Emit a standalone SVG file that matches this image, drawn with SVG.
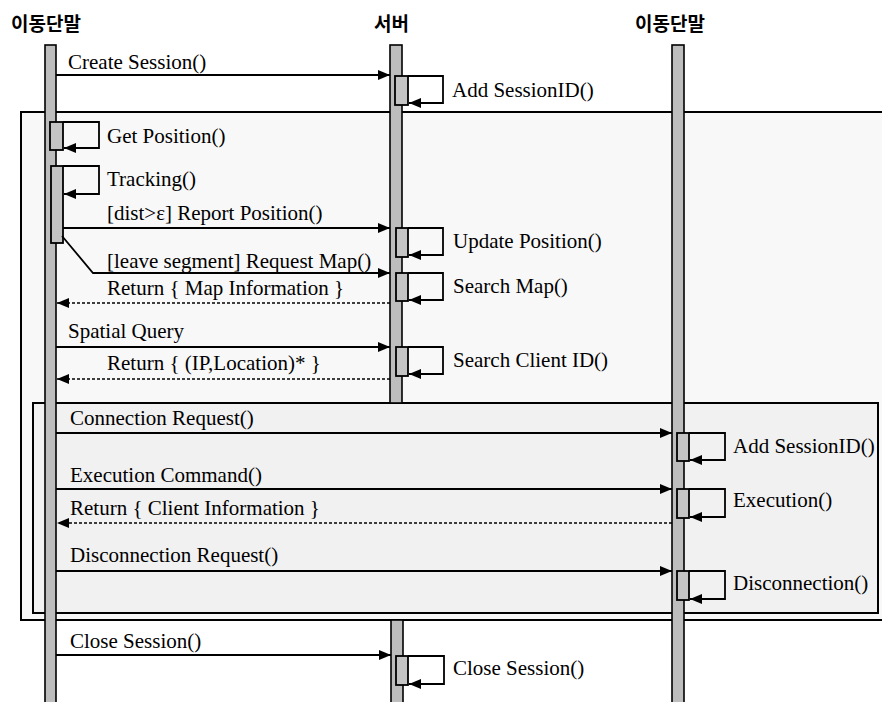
<svg xmlns="http://www.w3.org/2000/svg" width="882" height="702" viewBox="0 0 882 702">
<defs>
<style>
.lbl{font-size:21px;fill:#000}
.hdr{font-size:19px;font-weight:bold;fill:#000}
.life{fill:#bdbdbd;stroke:#000;stroke-width:1.6}
.act{fill:#c4c4c4;stroke:#000;stroke-width:1.8}
.msg{fill:none;stroke:#000;stroke-width:1.8;marker-end:url(#ah)}
.ret{fill:none;stroke:#000;stroke-width:1.5;stroke-dasharray:3 2;marker-end:url(#ah)}
.self{fill:none;stroke:#000;stroke-width:1.8;marker-end:url(#ah)}
.frame{stroke:#000;stroke-width:2}
</style>
<marker id="ah" viewBox="0 0 12 10" refX="12" refY="5" markerWidth="12" markerHeight="10" markerUnits="userSpaceOnUse" orient="auto">
<path d="M0,0 L12,5 L0,10 z" fill="#000"/>
</marker>
</defs>
<rect width="882" height="702" fill="#fff"/>

<g id="frames">
<rect id="outer-frame" class="frame" x="21" y="112" width="880" height="508" fill="#f8f8f8"/>
<rect id="inner-frame" class="frame" x="33" y="403" width="845" height="210" fill="#f1f1f1"/>
</g>

<g id="mobile-left">
<text class="hdr" font-family="'Noto Sans CJK KR', sans-serif" x="11" y="31">이동단말</text>
<rect class="life" x="45" y="45" width="11" height="665"/>
</g>
<g id="server">
<text class="hdr" font-family="'Noto Sans CJK KR', sans-serif" x="374" y="31">서버</text>
<rect class="life" x="390" y="45" width="12" height="358"/>
<rect class="life" x="391" y="620" width="12" height="90"/>
</g>
<g id="mobile-right">
<text class="hdr" font-family="'Noto Sans CJK KR', sans-serif" x="635" y="31">이동단말</text>
<rect class="life" x="672" y="45" width="12" height="665"/>
</g>

<g id="activations">
<rect class="act" x="395" y="76" width="13" height="29"/>
<rect class="act" x="50" y="122" width="13" height="28"/>
<rect class="act" x="51" y="166" width="12" height="77"/>
<rect class="act" x="396" y="228" width="12" height="29"/>
<rect class="act" x="396" y="273" width="12" height="28"/>
<rect class="act" x="396" y="347" width="12" height="29"/>
<rect class="act" x="677" y="433" width="12" height="28"/>
<rect class="act" x="677" y="489" width="12" height="29"/>
<rect class="act" x="677" y="571" width="12" height="29"/>
<rect class="act" x="396" y="656" width="12" height="29"/>
</g>

<g id="connectors">
<path class="msg" d="M56,75 H390"/>
<path class="self" d="M408,76 H443 V103 H409"/>
<path class="self" d="M63,122 H99 V148 H64"/>
<path class="self" d="M63,166 H99 V194 H64"/>
<path class="msg" d="M63,228 H390"/>
<path class="self" d="M408,228 H443 V255 H409"/>
<path class="msg" d="M62,236 L93,273 H390"/>
<path class="self" d="M408,273 H443 V300 H409"/>
<path class="ret" d="M390,303 H57"/>
<path class="msg" d="M56,347 H390"/>
<path class="self" d="M408,347 H443 V374 H409"/>
<path class="ret" d="M390,379 H57"/>
<path class="msg" d="M56,433 H672"/>
<path class="self" d="M689,433 H725 V460 H690"/>
<path class="msg" d="M56,489 H672"/>
<path class="self" d="M689,489 H725 V517 H690"/>
<path class="ret" d="M672,523 H57"/>
<path class="msg" d="M56,571 H672"/>
<path class="self" d="M689,571 H725 V599 H690"/>
<path class="msg" d="M56,655 H391"/>
<path class="self" d="M408,656 H444 V684 H409"/>
</g>

<g id="labels" font-family="'Liberation Serif', 'DejaVu Serif', serif">
<text class="lbl" x="68" y="69">Create Session()</text>
<text class="lbl" x="452" y="97">Add SessionID()</text>
<text class="lbl" x="107" y="143">Get Position()</text>
<text class="lbl" x="107" y="186">Tracking()</text>
<text class="lbl" x="107" y="220">[dist&gt;ε] Report Position()</text>
<text class="lbl" x="453" y="248">Update Position()</text>
<text class="lbl" x="107" y="268">[leave segment] Request Map()</text>
<text class="lbl" x="453" y="293">Search Map()</text>
<text class="lbl" x="107" y="295">Return { Map Information }</text>
<text class="lbl" x="68" y="338">Spatial Query</text>
<text class="lbl" x="453" y="367">Search Client ID()</text>
<text class="lbl" x="107" y="370">Return { (IP,Location)* }</text>
<text class="lbl" x="70" y="425">Connection Request()</text>
<text class="lbl" x="733" y="453">Add SessionID()</text>
<text class="lbl" x="70" y="482">Execution Command()</text>
<text class="lbl" x="733" y="507">Execution()</text>
<text class="lbl" x="70" y="515">Return { Client Information }</text>
<text class="lbl" x="70" y="562">Disconnection Request()</text>
<text class="lbl" x="733" y="590">Disconnection()</text>
<text class="lbl" x="70" y="648">Close Session()</text>
<text class="lbl" x="453" y="675">Close Session()</text>
</g>
</svg>
